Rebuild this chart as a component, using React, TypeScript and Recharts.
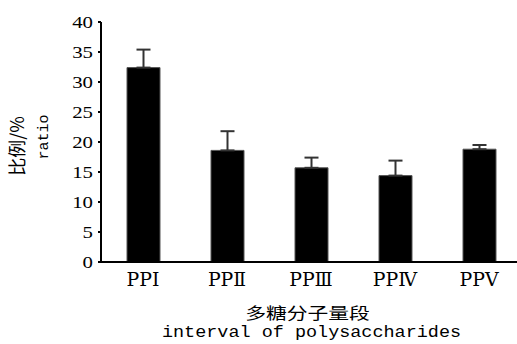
import React from "react";
import { BarChart, Bar, XAxis, YAxis, ErrorBar } from "recharts";

const categories = ["PPⅠ", "PPⅡ", "PPⅢ", "PPⅣ", "PPⅤ"];
const ratios = [32.4, 18.6, 15.7, 14.4, 18.8];
const errors = [3.0, 3.2, 1.7, 2.5, 0.7];
const yTicks = [0, 5, 10, 15, 20, 25, 30, 35, 40];

const serif = "DejaVu Serif, serif";
const times = "Liberation Serif, serif";
const mono = "Liberation Mono, monospace";
const cjk = "Noto Sans CJK SC, sans-serif";

const data = categories.map((name, i) => ({
	name,
	ratio: ratios[i],
	err: [0, errors[i]],
}));

// axis titles, stretched sideways like the scanned figure
const YTitle = () => (
	<g>
		<text transform="translate(24,146) rotate(-90)" textAnchor="middle" fontSize={18} fontFamily={cjk} fill="#000">
			比例/%
		</text>
		<text transform="translate(48,137) rotate(-90)" textAnchor="middle" fontSize={15} fontFamily={mono} fill="#000">
			ratio
		</text>
	</g>
);

const XTitle = () => (
	<g>
		<text transform="translate(307.5,319) scale(1.3,1)" textAnchor="middle" fontSize={16} fontFamily={cjk} fill="#000">
			多糖分子量段
		</text>
		<text transform="translate(311.5,337) scale(1.12,1)" textAnchor="middle" fontSize={16.5} fontFamily={mono} fill="#000">
			interval of polysaccharides
		</text>
	</g>
);

const XTick = (props: any) => {
	const { x, y, payload } = props;
	return (
		<text transform={`translate(${x},${y + 14}) scale(1.05,1)`} textAnchor="middle" fontSize={18} fontFamily={serif} fill="#000">
			{payload.value}
		</text>
	);
};

const YTick = (props: any) => {
	const { x, y, payload } = props;
	return (
		<text
			transform={`translate(${x},${y}) scale(1.3,1)`}
			dy="0.35em"
			textAnchor="end"
			fontSize={16}
			fill="#000"
			style={{ fontFamily: times }}
		>
			{payload.value}
		</text>
	);
};

const App = () => {
	return (
		<div style={{ width: 517, height: 344, overflow: "hidden", background: "#fff" }}>
			<style>{"body{margin:0}"}</style>
			<BarChart width={522} height={344} data={data} margin={{ top: 22, right: 1, bottom: 0, left: 0 }}>
				<XAxis
					dataKey="name"
					height={82}
					axisLine={{ stroke: "#000", strokeWidth: 2 }}
					tickLine={false}
					tickMargin={4}
					tick={<XTick />}
					label={{ content: () => <XTitle /> }}
				/>
				<YAxis
					width={101}
					domain={[0, 40]}
					ticks={yTicks}
					interval={0}
					axisLine={{ stroke: "#000", strokeWidth: 2 }}
					tickLine={{ stroke: "#000", strokeWidth: 2 }}
					tickSize={3}
					tickMargin={5}
					tick={<YTick />}
					label={{ content: () => <YTitle /> }}
				/>
				<Bar dataKey="ratio" fill="#000" stroke="#555" strokeWidth={1} barSize={33} isAnimationActive={false}>
					<ErrorBar dataKey="err" width={7} stroke="#333" strokeWidth={2} direction="y" />
				</Bar>
			</BarChart>
		</div>
	);
};

export default App;
